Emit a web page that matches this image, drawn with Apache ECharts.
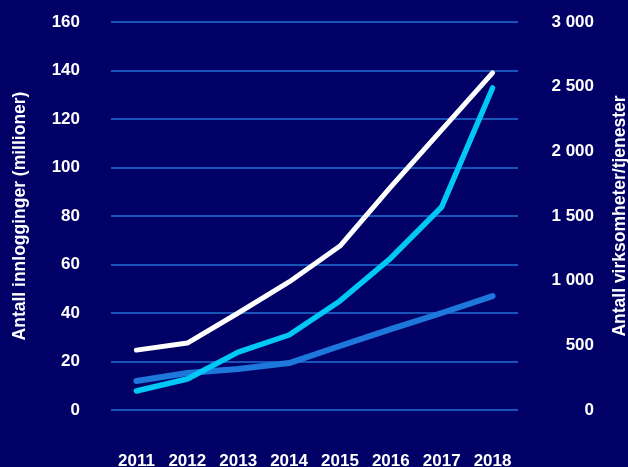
<!DOCTYPE html>
<html>
<head>
<meta charset="utf-8">
<script src="https://cdn.jsdelivr.net/npm/echarts@6/dist/echarts.min.js"></script>
<style>
  html, body { margin: 0; padding: 0; background: #000066; }
  #chart { width: 628px; height: 467px; }
</style>
</head>
<body>
<div id="chart"></div>
<script>
// Years on the category axis
const years = ['2011', '2012', '2013', '2014', '2015', '2016', '2017', '2018'];

// Logins in millions (left axis)
const innlogginger = [24.7, 27.6, 40, 52.8, 67.6, 92, 115.5, 139];

// Services and organisations (right axis)
const tjenester = [147, 240, 448, 580, 843, 1175, 1570, 2490];
const virksomheter = [224, 286, 317, 363, 495, 626, 750, 881];

const leftTicks = { min: 0, max: 160, interval: 20 };
const rightTicks = { min: 0, max: 3000, interval: 500 };

const fontFamily = '"Liberation Sans", Arial, Helvetica, sans-serif';
const labelStyle = { color: '#ffffff', fontSize: 17, fontWeight: 'bold', fontFamily };
const nameStyle = { color: '#ffffff', fontSize: 17.5, fontWeight: 'bold', fontFamily };

function spaced(v) {
  return String(v).replace(/\B(?=(\d{3})+(?!\d))/g, ' ');
}

const chart = echarts.init(document.getElementById('chart'), null, { renderer: 'canvas' });

function lineSeries(name, data, color, width, axisIndex) {
  return {
    name, type: 'line', data, yAxisIndex: axisIndex,
    symbol: 'none', smooth: false,
    lineStyle: { color, width, cap: 'round', join: 'round' },
    z: 3
  };
}

chart.setOption({
  backgroundColor: '#000066',
  animation: false,
  grid: { left: 111, right: 110, top: 22, bottom: 57, containLabel: false, outerBoundsMode: 'none' },
  xAxis: {
    type: 'category',
    data: years,
    boundaryGap: true,
    axisLine: { show: false },
    axisTick: { show: false },
    axisLabel: Object.assign({ margin: 43, interval: 0 }, labelStyle)
  },
  yAxis: [
    {
      type: 'value',
      min: leftTicks.min, max: leftTicks.max, interval: leftTicks.interval,
      name: 'Antall innlogginger (millioner)',
      nameLocation: 'middle', nameGap: 82, nameRotate: 90,
      nameTextStyle: nameStyle,
      axisLine: { show: false },
      axisTick: { show: false },
      axisLabel: Object.assign({ margin: 31 }, labelStyle),
      splitLine: { lineStyle: { color: '#1f6fd6', width: 1.5 } }
    },
    {
      type: 'value',
      position: 'right',
      min: rightTicks.min, max: rightTicks.max, interval: rightTicks.interval,
      name: 'Antall virksomheter/tjenester',
      nameLocation: 'middle', nameGap: 93, nameRotate: 90,
      nameTextStyle: nameStyle,
      axisLine: { show: false },
      axisTick: { show: false },
      axisLabel: Object.assign({ margin: 76, align: 'right', formatter: spaced }, labelStyle),
      splitLine: { show: false }
    }
  ],
  series: [
    lineSeries('Virksomheter', virksomheter, '#1e78dc', 6, 1),
    lineSeries('Tjenester', tjenester, '#00c8f5', 5.5, 1),
    lineSeries('Innlogginger', innlogginger, '#ffffff', 5, 0)
  ]
});
</script>
</body>
</html>
